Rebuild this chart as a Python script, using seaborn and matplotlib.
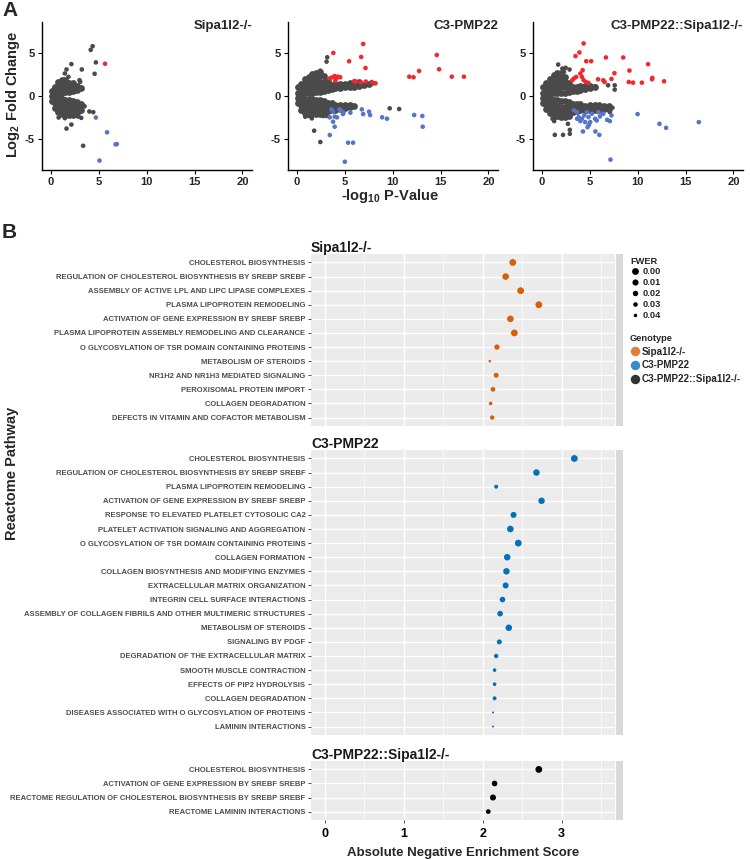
import matplotlib
matplotlib.use("Agg")
import matplotlib.pyplot as plt
from matplotlib.lines import Line2D
import numpy as np
import pandas as pd
import seaborn as sns

sns.set_style("white")
plt.rcParams['font.family'] = ['Liberation Sans', 'DejaVu Sans']
plt.rcParams['axes.unicode_minus'] = False
plt.rcParams['mathtext.fontset'] = 'custom'
plt.rcParams['mathtext.rm'] = 'Liberation Sans'
plt.rcParams['mathtext.bf'] = 'Liberation Sans:bold'

# ---------------- Panel A: volcano data (-log10 p, log2 FC) ----------------
volcano_titles = ["Sipa1l2-/-", "C3-PMP22", "C3-PMP22::Sipa1l2-/-"]

# dense non-significant cloud, read as columns (x, [y values])
p1_core = [
    (0.1, [-0.6, 0.0, 0.6]),
    (0.4, [-1.4, -0.8, -0.2, 0.4, 1.0]),
    (0.7, [-1.9, -1.3, -0.7, -0.1, 0.5, 1.1, 1.6]),
    (1.1, [-2.1, -1.5, -0.9, -0.3, 0.3, 0.9, 1.5, 1.9]),
    (1.5, [-2.2, -1.6, -1.0, -0.5, 0.5, 1.0, 1.5, 1.9]),
    (1.9, [-2.2, -1.6, -1.0, -0.5, 0.5, 1.0, 1.5]),
    (2.3, [-2.2, -1.6, -1.1, -0.6, 0.6, 1.1, 1.5]),
    (2.7, [-2.0, -1.5, -1.0, -0.7, 0.7, 1.2]),
    (3.1, [-1.7, -1.2, -0.9, 0.9]),
]
p2_core = [
    (0.1, [-0.8, -0.2, 0.4, 1.0]),
    (0.4, [-1.6, -1.0, -0.4, 0.2, 0.8, 1.4]),
    (0.8, [-2.0, -1.4, -0.8, -0.3, 0.3, 0.9, 1.5, 2.0]),
    (1.2, [-2.1, -1.5, -0.9, -0.4, 0.4, 1.0, 1.6, 2.2]),
    (1.6, [-2.1, -1.5, -1.0, -0.4, 0.4, 1.0, 1.6, 2.2, 2.6]),
    (2.0, [-2.1, -1.5, -1.0, -0.5, 0.5, 1.0, 1.6, 2.2, 2.7]),
    (2.4, [-2.1, -1.5, -1.0, -0.5, 0.5, 1.1, 1.7, 2.3, 2.8]),
    (2.8, [-2.0, -1.5, -1.0, -0.6, 0.6, 1.1, 1.7, 2.3]),
    (3.2, [-1.8, -1.3, -0.8, 0.7, 1.2, 1.8]),
    (3.6, [-1.7, -1.2, -0.8, 0.8, 1.3]),
    (4.0, [-1.6, -1.1, 0.9, 1.4]),
    (4.5, [-1.5, -1.0, 0.9, 1.4]),
    (5.0, [-1.4, -1.0, 1.0, 1.4]),
    (5.5, [-1.3, -1.0, 1.1, 1.5]),
    (6.0, [-1.2, 1.1, 1.5]),
    (6.5, [1.2, 1.6]),
    (7.0, [1.3]),
    (7.5, [1.4]),
]
p3_core = [
    (0.1, [-0.8, -0.2, 0.4, 1.0]),
    (0.4, [-1.5, -0.9, -0.3, 0.3, 0.9, 1.5]),
    (0.8, [-2.0, -1.4, -0.8, -0.2, 0.3, 0.9, 1.5, 2.0]),
    (1.2, [-2.3, -1.7, -1.1, -0.5, 0.3, 0.9, 1.5, 2.1, 2.5]),
    (1.6, [-2.4, -1.8, -1.2, -0.5, 0.3, 0.9, 1.5, 2.1, 2.7]),
    (2.0, [-2.5, -1.9, -1.3, -0.6, 0.4, 1.0, 1.6, 2.2, 2.7]),
    (2.4, [-2.5, -1.9, -1.3, -0.6, 0.4, 1.0, 1.6, 2.2]),
    (2.8, [-2.3, -1.7, -1.1, -0.7, 0.5, 1.0, 1.5]),
    (3.2, [-1.9, -1.4, -0.9, 0.6, 1.1]),
    (3.6, [-1.8, -1.3, -0.9, 0.6, 1.1]),
    (4.0, [-1.7, -1.2, -0.9, 0.7, 1.2]),
    (4.5, [-1.7, -1.2, 0.8, 1.2]),
    (5.0, [-1.6, -1.1, 0.9, 1.2]),
    (5.5, [-1.6, -1.1, 1.0]),
    (6.0, [-1.6, -1.1]),
    (6.5, [-1.5, -1.2]),
    (7.0, [-1.5, -1.2]),
]

p1_ns = [(4.34, 5.85), (4.14, 5.42), (4.68, 3.95), (4.55, 2.61), (2.12, 3.75),
         (3.21, 3.12), (1.61, 3.12), (1.44, 2.65), (1.81, 2.25), (2.97, 1.86),
         (3.04, 1.66), (3.35, -5.85), (2.12, -3.36), (1.61, -3.83), (4.0, -1.82),
         (4.41, -1.90), (3.15, -2.57), (0.79, -2.53), (1.44, -2.61), (2.29, -2.09),
         (3.32, -1.11), (2.80, -2.41), (3.5, -1.2), (2.6, -2.3)]
p1_up = [(5.64, 3.79)]
p1_down = [(4.68, -2.53), (5.85, -4.27), (6.74, -5.69), (6.87, -5.65), (5.06, -7.59)]

p2_ns = [(3.15, 4.55), (3.08, 4.04), (2.43, 2.98), (9.68, -1.45), (10.67, -1.53),
         (1.78, -4.08), (2.43, -5.41), (1.54, -2.63), (0.85, -2.43), (1.2, -2.35),
         (2.74, -2.35), (3.08, -2.35), (8.0, 1.5), (7.5, 1.4)]
p2_up = [(6.91, 6.12), (3.79, 5.06), (6.70, 4.59), (5.44, 4.08), (7.15, 3.29),
         (14.6, 4.82), (14.84, 3.14), (12.75, 2.94), (11.73, 2.27), (12.17, 2.2),
         (16.17, 2.27), (17.44, 2.27), (3.42, 2.08), (3.69, 2.2), (3.93, 2.35),
         (4.10, 2.08), (4.27, 2.27), (4.51, 2.2), (4.0, 1.8), (5.98, 1.76),
         (6.15, 1.69), (6.67, 1.61), (7.18, 1.69), (7.8, 1.65), (8.2, 1.49)]
p2_down = [(3.59, -1.57), (3.76, -1.84), (4.44, -1.57), (4.62, -1.73), (4.85, -1.96),
           (5.57, -1.96), (6.77, -1.57), (6.91, -2.12), (7.52, -1.84), (7.63, -2.24),
           (8.89, -2.51), (9.4, -2.67), (12.24, -2.24), (13.09, -2.35), (13.13, -3.61),
           (3.42, -2.51), (3.93, -2.43), (4.17, -2.51), (3.93, -3.61), (3.42, -4.59),
           (5.33, -5.49), (5.85, -5.49), (4.99, -7.73), (3.76, -3.02), (4.79, -2.12)]

p3_ns = [(1.68, 3.70), (2.12, 3.23), (2.46, 3.31), (2.87, 3.11), (2.29, 2.83),
         (5.54, 1.14), (6.9, 1.26), (7.59, 1.26), (7.59, 0.75), (7.08, -1.89),
         (7.35, -1.38), (1.33, -4.57), (2.19, -4.57), (2.9, -4.45), (2.9, -3.98),
         (2.7, -3.27), (1.26, -2.95), (1.09, -2.68), (1.44, -2.48)]
p3_up = [(4.34, 6.18), (3.9, 5.12), (3.49, 4.69), (4.62, 4.09), (5.13, 4.09),
         (6.67, 4.53), (8.48, 4.53), (11.08, 3.74), (9.13, 2.99), (7.56, 2.68),
         (11.52, 2.13), (11.49, 1.97), (12.75, 1.73), (10.43, 1.57), (9.5, 1.57),
         (9.06, 1.65), (7.25, 2.0), (6.39, 1.85), (6.53, 1.65), (5.85, 1.97),
         (3.15, 1.85), (3.32, 2.05), (3.56, 2.24), (4.0, 2.64), (4.17, 2.24),
         (4.34, 1.85), (4.58, 1.65), (4.85, 1.54), (4.24, 3.03)]
p3_down = [(9.98, -2.13), (12.27, -3.27), (12.96, -3.74), (16.38, -3.07), (7.15, -7.48),
           (4.27, -4.17), (4.75, -3.66), (4.9, -3.4), (5.57, -4.17), (5.98, -4.57),
           (3.32, -1.69), (3.66, -1.89), (3.83, -2.48), (4.17, -2.68), (4.41, -2.28),
           (4.68, -1.89), (4.85, -2.48), (5.2, -2.09), (5.54, -2.68), (5.88, -1.89),
           (6.05, -2.4), (6.39, -2.09), (6.8, -2.8), (7.08, -2.95), (7.25, -2.28),
           (4.0, -2.95), (4.51, -3.07), (5.03, -3.07), (5.71, -2.87), (3.66, -2.68)]

# ---------------- Panel B: GSEA data ----------------
genotypes = ["Sipa1l2-/-", "C3-PMP22", "C3-PMP22::Sipa1l2-/-"]
genotype_colors = ["#D95F02", "#0570B9", "#000000"]

sipa_paths = ["CHOLESTEROL BIOSYNTHESIS",
              "REGULATION OF CHOLESTEROL BIOSYNTHESIS BY SREBP SREBF",
              "ASSEMBLY OF ACTIVE LPL AND LIPC LIPASE COMPLEXES",
              "PLASMA LIPOPROTEIN REMODELING",
              "ACTIVATION OF GENE EXPRESSION BY SREBF SREBP",
              "PLASMA LIPOPROTEIN ASSEMBLY REMODELING AND CLEARANCE",
              "O GLYCOSYLATION OF TSR DOMAIN CONTAINING PROTEINS",
              "METABOLISM OF STEROIDS",
              "NR1H2 AND NR1H3 MEDIATED SIGNALING",
              "PEROXISOMAL PROTEIN IMPORT",
              "COLLAGEN DEGRADATION",
              "DEFECTS IN VITAMIN AND COFACTOR METABOLISM"]
sipa_nes = [2.38, 2.29, 2.48, 2.71, 2.35, 2.40, 2.18, 2.09, 2.17, 2.13, 2.10, 2.12]
sipa_fwer = [0.0, 0.003, 0.0, 0.0, 0.003, 0.0, 0.021, 0.046, 0.025, 0.029, 0.039, 0.032]

c3_paths = ["CHOLESTEROL BIOSYNTHESIS",
            "REGULATION OF CHOLESTEROL BIOSYNTHESIS BY SREBP SREBF",
            "PLASMA LIPOPROTEIN REMODELING",
            "ACTIVATION OF GENE EXPRESSION BY SREBF SREBP",
            "RESPONSE TO ELEVATED PLATELET CYTOSOLIC CA2",
            "PLATELET ACTIVATION SIGNALING AND AGGREGATION",
            "O GLYCOSYLATION OF TSR DOMAIN CONTAINING PROTEINS",
            "COLLAGEN FORMATION",
            "COLLAGEN BIOSYNTHESIS AND MODIFYING ENZYMES",
            "EXTRACELLULAR MATRIX ORGANIZATION",
            "INTEGRIN CELL SURFACE INTERACTIONS",
            "ASSEMBLY OF COLLAGEN FIBRILS AND OTHER MULTIMERIC STRUCTURES",
            "METABOLISM OF STEROIDS",
            "SIGNALING BY PDGF",
            "DEGRADATION OF THE EXTRACELLULAR MATRIX",
            "SMOOTH MUSCLE CONTRACTION",
            "EFFECTS OF PIP2 HYDROLYSIS",
            "COLLAGEN DEGRADATION",
            "DISEASES ASSOCIATED WITH O GLYCOSYLATION OF PROTEINS",
            "LAMININ INTERACTIONS"]
c3_nes = [3.16, 2.68, 2.17, 2.745, 2.39, 2.35, 2.45, 2.31, 2.30, 2.29,
          2.25, 2.22, 2.33, 2.21, 2.17, 2.15, 2.15, 2.15, 2.13, 2.13]
c3_fwer = [0.0, 0.005, 0.036, 0.005, 0.012, 0.003, 0.0, 0.005, 0.005, 0.012,
           0.017, 0.017, 0.005, 0.025, 0.032, 0.039, 0.039, 0.036, 0.05, 0.05]

dko_paths = ["CHOLESTEROL BIOSYNTHESIS",
             "ACTIVATION OF GENE EXPRESSION BY SREBF SREBP",
             "REACTOME REGULATION OF CHOLESTEROL BIOSYNTHESIS BY SREBP SREBF",
             "REACTOME LAMININ INTERACTIONS"]
dko_nes = [2.71, 2.15, 2.13, 2.07]
dko_fwer = [0.0, 0.017, 0.012, 0.029]

fwer_levels = [0.00, 0.01, 0.02, 0.03, 0.04]

# ---------------- figure ----------------
W, H = 750, 860
fig = plt.figure(figsize=(W / 100, H / 100), dpi=100)


def px_axes(left, top, right, bottom):
    return fig.add_axes([left / W, 1 - bottom / H, (right - left) / W, (bottom - top) / H])


GRAY, RED, BLUE = "#4A4A4A", "#EE2A30", "#5874C8"

volcano_sets = [(p1_core, p1_ns, p1_up, p1_down),
                (p2_core, p2_ns, p2_up, p2_down),
                (p3_core, p3_ns, p3_up, p3_down)]
volcano_lefts = [42, 288, 533]

for title, (core, ns, up, down), left in zip(volcano_titles, volcano_sets, volcano_lefts):
    ax = px_axes(left, 22, left + 210, 170)
    core_df = pd.DataFrame([(x, y) for x, ys in core for y in ys], columns=["logp", "lfc"])
    pts = pd.DataFrame(
        [(x, y, "ns") for x, y in ns] + [(x, y, "up") for x, y in up]
        + [(x, y, "down") for x, y in down],
        columns=["logp", "lfc", "group"])
    sns.scatterplot(data=core_df, x="logp", y="lfc", color=GRAY, s=24,
                    linewidth=0, ax=ax)
    sns.scatterplot(data=pts, x="logp", y="lfc", hue="group",
                    palette={"ns": GRAY, "up": RED, "down": BLUE},
                    s=11, linewidth=0, legend=False, ax=ax)
    ax.set_xlim(-0.95, 21.0)
    ax.set_ylim(-8.7, 8.7)
    ax.set_xticks([0, 5, 10, 15, 20])
    ax.set_yticks([-5, 0, 5])
    ax.set_xlabel("")
    ax.set_ylabel("")
    for s in ["top", "right"]:
        ax.spines[s].set_visible(False)
    for s in ["left", "bottom"]:
        ax.spines[s].set_color("black")
        ax.spines[s].set_linewidth(1.0)
    ax.tick_params(direction="out", length=3, width=0.8, color="black",
                   labelsize=8, pad=2, bottom=True, left=True)
    for lab in ax.get_xticklabels() + ax.get_yticklabels():
        lab.set_fontweight("bold")
    ax.text(1.0, 0.975, title, transform=ax.transAxes, ha="right", va="center",
            fontsize=9.5, fontweight="bold")

fig.text(13 / W, 1 - 94 / H, r"Log$_{\mathbf{2}}$ Fold Change", rotation=90,
         ha="center", va="center", fontsize=10.5, fontweight="bold")
fig.text(390 / W, 1 - 196 / H, r"-log$_{\mathbf{10}}$ P-Value",
         ha="center", va="center", fontsize=10.5, fontweight="bold")
fig.text(2 / W, 1 - 10 / H, "A", ha="left", va="center", fontsize=15, fontweight="bold")
fig.text(2 / W, 1 - 233 / H, "B", ha="left", va="center", fontsize=15, fontweight="bold")

# ---------------- Panel B plotting ----------------
gsea_sets = [(sipa_paths, sipa_nes, sipa_fwer),
             (c3_paths, c3_nes, c3_fwer),
             (dko_paths, dko_nes, dko_fwer)]
facet_box = [(254, 426), (450, 735), (761, 820)]
S_MAX, S_MIN, F_MAX = 24, 2, 0.05

for i, (geno, col, (paths, nes, fwer), (top, bottom)) in enumerate(
        zip(genotypes, genotype_colors, gsea_sets, facet_box)):
    ax = px_axes(311, top, 615, bottom)
    strip = px_axes(616, top, 623, bottom)
    strip.set_facecolor("#D9D9D9")
    strip.set_xticks([])
    strip.set_yticks([])
    for s in strip.spines.values():
        s.set_visible(False)

    df = pd.DataFrame({"pathway": paths, "score": nes, "FWER": fwer})
    sns.scatterplot(data=df, x="score", y="pathway", size="FWER",
                    sizes=(S_MAX, S_MIN), size_norm=(0, F_MAX), color=col,
                    linewidth=0, legend=False, ax=ax, zorder=3)
    n = len(paths)
    ax.set_ylim(n - 1 + 0.6, -0.6)
    ax.set_xlim(-0.175, 3.675)
    ax.set_facecolor("#EBEBEB")
    ax.set_xticks([0, 1, 2, 3])
    ax.set_xticks([0.5, 1.5, 2.5, 3.5], minor=True)
    ax.grid(which="major", color="white", linewidth=1.0)
    ax.grid(which="minor", axis="x", color="white", linewidth=0.5)
    ax.set_axisbelow(True)
    for s in ax.spines.values():
        s.set_visible(False)
    ax.set_xlabel("")
    ax.set_ylabel("")
    ax.tick_params(axis="y", length=2.5, width=0.6, color="#333333",
                   labelsize=5.5, labelcolor="#4D4D4D", pad=1.5, left=True)
    for lab in ax.get_yticklabels():
        lab.set_fontweight("bold")
    ax.tick_params(axis="x", which="minor", length=0)
    if i < 2:
        ax.tick_params(axis="x", length=0, labelbottom=False)
    else:
        ax.tick_params(axis="x", length=2.5, width=0.6, color="#333333",
                       labelsize=9, labelcolor="black", pad=3, bottom=True)
        for lab in ax.get_xticklabels():
            lab.set_fontweight("bold")
    fig.text(311 / W, 1 - (top - 6) / H, geno, ha="left", va="center",
             fontsize=10, fontweight="bold", color="#1A1A1A")

fig.text(463 / W, 1 - 853 / H, "Absolute Negative Enrichment Score",
         ha="center", va="center", fontsize=9.5, fontweight="bold")
fig.text(12 / W, 1 - 473 / H, "Reactome Pathway", rotation=90,
         ha="center", va="center", fontsize=10.5, fontweight="bold")

# legends
fwer_handles = [Line2D([], [], marker="o", ls="", color="black", markeredgewidth=0,
                       markersize=np.sqrt(S_MAX + (S_MIN - S_MAX) * v / F_MAX))
                for v in fwer_levels]
leg1 = fig.legend(fwer_handles, [f"{v:.2f}" for v in fwer_levels], title="FWER",
                  loc="upper left", bbox_to_anchor=(630 / W, 1 - 256.5 / H),
                  frameon=False, fontsize=6.7, title_fontsize=6.7,
                  handlelength=1.0, handletextpad=0.4, labelspacing=0.2,
                  borderpad=0, borderaxespad=0, alignment="left")
leg1.get_title().set_fontweight("bold")
for t in leg1.get_texts():
    t.set_fontweight("bold")

geno_handles = [Line2D([], [], marker="o", ls="", color=c, alpha=0.8,
                       markeredgewidth=0, markersize=6.8) for c in genotype_colors]
leg2 = fig.legend(geno_handles, genotypes, title="Genotype",
                  loc="upper left", bbox_to_anchor=(630 / W, 1 - 334 / H),
                  frameon=False, fontsize=7.1, title_fontsize=6.7,
                  handlelength=1.0, handletextpad=0.2, labelspacing=0.38,
                  borderpad=0, borderaxespad=0, alignment="left")
leg2.get_title().set_fontweight("bold")
for t in leg2.get_texts():
    t.set_fontweight("bold")

fig.savefig("out.png", dpi=100)
